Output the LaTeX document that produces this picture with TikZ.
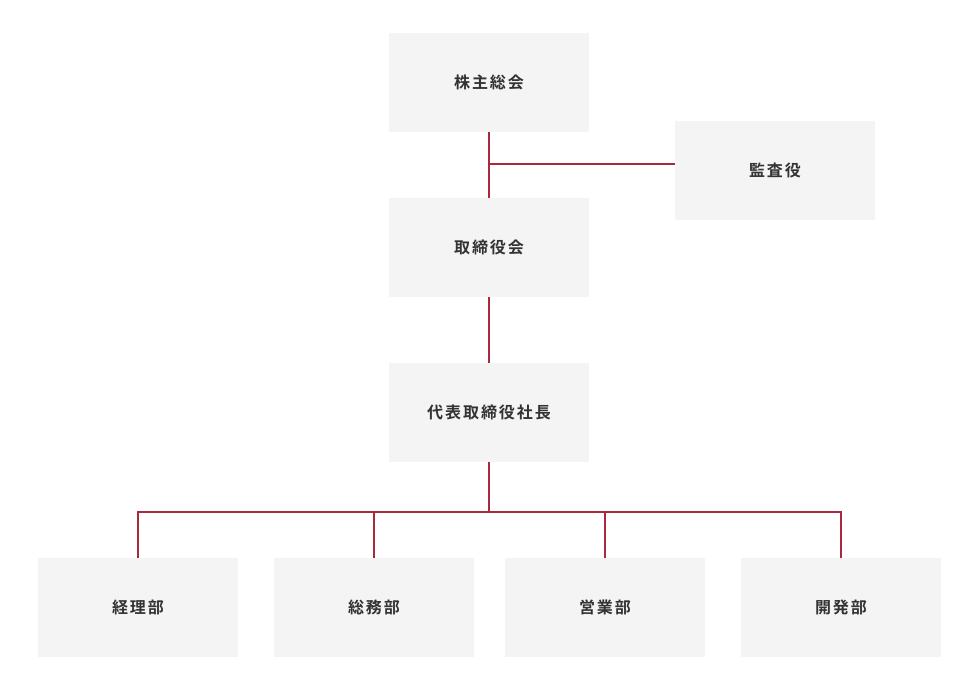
\documentclass[tikz,border=0pt]{standalone}
\usepackage{fontspec}
\setmainfont{Noto Sans CJK JP}[BoldFont={* Bold},LetterSpace=12]
\definecolor{boxc}{HTML}{F4F4F4}
\definecolor{linec}{HTML}{A8283C}
\definecolor{txt}{HTML}{333333}
\begin{document}
\begin{tikzpicture}[x=1pt,y=-1pt,
  box/.style={fill=boxc,minimum width=200pt,minimum height=99pt,inner sep=0pt,font=\bfseries\fontsize{16}{18}\selectfont,text=txt},
  conn/.style={draw=linec,line width=2pt}]
\useasboundingbox (0,0) rectangle (980,700);
\node[box] (kabu) at (489,82.5) {株主総会};
\node[box] (kansa) at (775,170.5) {監査役};
\node[box] (tori) at (489,247.5) {取締役会};
\node[box] (dai) at (489,412.5) {代表取締役社長};
\node[box] (b1) at (138,607.5) {経理部};
\node[box] (b2) at (374,607.5) {総務部};
\node[box] (b3) at (605,607.5) {営業部};
\node[box] (b4) at (841,607.5) {開発部};
\coordinate (j1) at (489,164);
\coordinate (j2) at (489,512);
\draw[conn] (kabu.south) -- (tori.north);
\draw[conn] (j1) -- (kansa.west |- j1);
\draw[conn] (tori.south) -- (dai.north);
\draw[conn] (dai.south) -- (j2);
\draw[conn] (b1.north) |- (j2) -| (b4.north);
\draw[conn] (b2.north) -- (b2.north |- j2);
\draw[conn] (b3.north) -- (b3.north |- j2);
\end{tikzpicture}
\end{document}
